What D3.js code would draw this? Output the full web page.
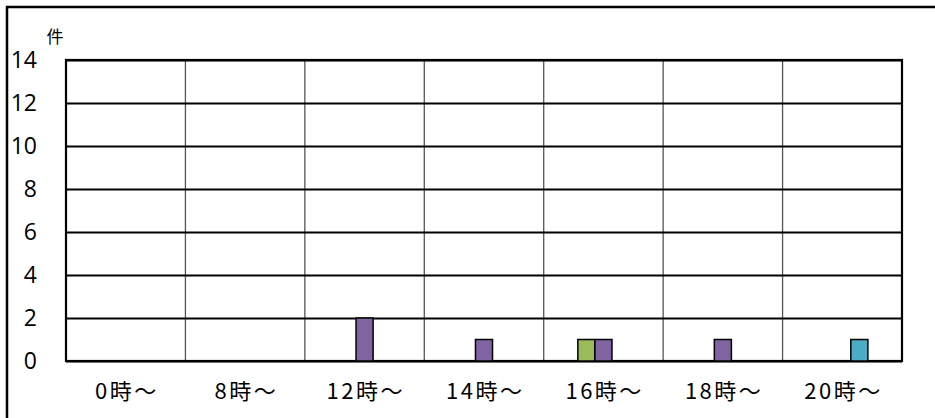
<!DOCTYPE html>
<html>
<head>
<meta charset="utf-8">
<script src="https://cdn.jsdelivr.net/npm/d3@7"></script>
<style>
  body { margin: 0; background: #fff; }
  svg { display: block; }
</style>
</head>
<body>
<svg id="chart"></svg>
<script>
// chart data
const categories = ["0時～", "8時～", "12時～", "14時～", "16時～", "18時～", "20時～"];
const seriesNames = ["系列1", "系列2", "系列3"];
const seriesGreen = [0, 0, 0, 0, 1, 0, 0];
const seriesPurple = [0, 0, 2, 1, 1, 1, 0];
const seriesTeal = [0, 0, 0, 0, 0, 0, 1];
const yTicks = [0, 2, 4, 6, 8, 10, 12, 14];
const unitLabel = "件";

const seriesValues = [seriesGreen, seriesPurple, seriesTeal];
const seriesColors = ["#9BBB59", "#8064A2", "#4BACC6"];

const width = 935, height = 418;
const margin = { top: 60, right: 33, bottom: 57, left: 66 };
const innerW = width - margin.left - margin.right;
const innerH = height - margin.top - margin.bottom;

const svg = d3.select("#chart").attr("width", width).attr("height", height);

// outer frame (only left/top visible in the picture)
svg.append("rect")
  .attr("x", 7).attr("y", 7)
  .attr("width", width + 20).attr("height", height + 20)
  .attr("fill", "#fff")
  .attr("stroke", "#000")
  .attr("stroke-width", 2.5);

const chart = svg.append("g")
  .attr("transform", `translate(${margin.left},${margin.top})`);

const x0 = d3.scaleBand().domain(categories).range([0, innerW]).padding(0);
const x1 = d3.scaleBand().domain(seriesNames).range([0, x0.bandwidth()])
  .paddingInner(0).paddingOuter(2);
const y = d3.scaleLinear().domain([0, 14]).range([innerH, 0]);

// vertical category separators
chart.selectAll(".vgrid")
  .data(categories.slice(1))
  .join("line")
  .attr("class", "vgrid")
  .attr("x1", d => x0(d)).attr("x2", d => x0(d))
  .attr("y1", 0).attr("y2", innerH)
  .attr("stroke", "#555")
  .attr("stroke-width", 1.3);

// horizontal gridlines
const yAxis = d3.axisLeft(y).tickValues(yTicks).tickSize(-innerW).tickFormat("");
const yAxisG = chart.append("g").call(yAxis);
yAxisG.select(".domain").remove();
yAxisG.selectAll(".tick line").attr("stroke", "#000").attr("stroke-width", 2.2);

// plot border
chart.append("rect")
  .attr("x", 0).attr("y", 0)
  .attr("width", innerW).attr("height", innerH)
  .attr("fill", "none")
  .attr("stroke", "#000")
  .attr("stroke-width", 2.2);

// y tick labels
chart.selectAll(".ylab")
  .data(yTicks)
  .join("text")
  .attr("class", "ylab")
  .attr("x", -29)
  .attr("y", d => y(d))
  .attr("dy", "0.36em")
  .attr("text-anchor", "end")
  .style("font-family", "'Open Sans', sans-serif")
  .style("font-size", "23px")
  .attr("fill", "#000")
  .text(d => d);

// bars
const barData = [];
seriesValues.forEach((vals, si) => {
  vals.forEach((v, ci) => {
    if (v > 0) barData.push({ cat: categories[ci], series: seriesNames[si], value: v, color: seriesColors[si] });
  });
});

chart.selectAll(".bar")
  .data(barData)
  .join("rect")
  .attr("class", "bar")
  .attr("x", d => x0(d.cat) + x1(d.series))
  .attr("width", x1.bandwidth())
  .attr("y", d => y(d.value))
  .attr("height", d => y(0) - y(d.value))
  .attr("fill", d => d.color)
  .attr("stroke", "#000")
  .attr("stroke-width", 1.5);

// x labels
const ls = 2.5;
chart.selectAll(".xlab")
  .data(categories)
  .join("text")
  .attr("class", "xlab")
  .attr("x", d => x0(d) + x0.bandwidth() / 2 + ls / 2)
  .attr("y", innerH + 38)
  .attr("text-anchor", "middle")
  .style("font-family", "'Noto Sans CJK JP', sans-serif")
  .style("font-size", "22px")
  .style("letter-spacing", ls + "px")
  .attr("fill", "#000")
  .text(d => d);

// unit label
svg.append("text")
  .attr("x", 55)
  .attr("y", 43)
  .attr("text-anchor", "middle")
  .style("font-family", "'Noto Sans CJK JP', sans-serif")
  .style("font-size", "17px")
  .attr("fill", "#000")
  .text(unitLabel);
</script>
</body>
</html>
